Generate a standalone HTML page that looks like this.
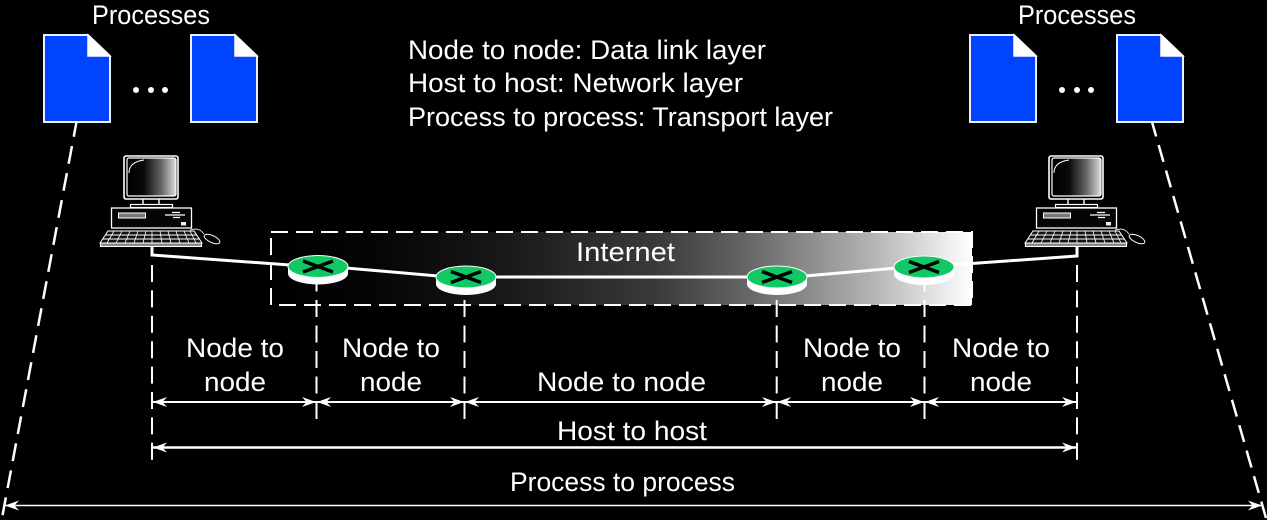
<!DOCTYPE html>
<html><head><meta charset="utf-8"><style>
html,body{margin:0;padding:0;background:#000;width:1267px;height:520px;overflow:hidden}
svg{display:block}
text{font-family:"Liberation Sans",sans-serif;font-size:27px;fill:#fff}
</style></head><body>
<svg width="1267" height="520" viewBox="0 0 1267 520" xmlns="http://www.w3.org/2000/svg">
<defs>
<linearGradient id="inet" x1="271" x2="972" y1="0" y2="0" gradientUnits="userSpaceOnUse">
<stop offset="0" stop-color="#000"/><stop offset="0.15" stop-color="#050505"/><stop offset="0.33" stop-color="#181818"/><stop offset="0.55" stop-color="#3a3a3a"/><stop offset="0.68" stop-color="#666"/><stop offset="0.85" stop-color="#b0b0b0"/><stop offset="1" stop-color="#fff"/>
</linearGradient>
<linearGradient id="mon" x1="0" x2="1" y1="0" y2="0">
<stop offset="0" stop-color="#000"/><stop offset="0.35" stop-color="#0a0a0a"/><stop offset="0.7" stop-color="#666"/><stop offset="1" stop-color="#ddd"/>
</linearGradient>
<g id="doc">
<path d="M44 35H88L110 56V122H44Z" fill="#0044ff" stroke="#eef" stroke-width="2"/>
<path d="M88 35L110 56H88Z" fill="#fff" stroke="#fff" stroke-width="1.5"/>
</g>
<g id="pc" fill="none" stroke="#fff">
<rect x="124" y="156" width="54" height="43" rx="2" stroke-width="1.6"/>
<rect x="127" y="158" width="49" height="38" rx="2" fill="url(#mon)" stroke-width="1.2"/>
<path d="M129 173Q129 162 144 160" stroke-width="1"/>
<path d="M143 199V204M159 199V204" stroke-width="1.4"/>
<rect x="130.500" y="204.500" width="42" height="3" stroke-width="1.2"/>
<rect x="111.500" y="208" width="80" height="20" fill="#050505" stroke-width="1.3"/>
<rect x="118.500" y="213" width="27" height="5" fill="#777" stroke-width="1"/>
<path d="M165 215H185M172 212.500H180M173 217.500H180" stroke-width="1.200"/>
<rect x="181" y="222" width="5" height="3.500" fill="#eee" stroke="none"/>
<path d="M108 231H194L202 243H100Z" fill="#111" stroke-width="1"/>
<path d="M106 235H197M103 239H200" stroke-width="1"/>
<path d="M114 231L107 243M122 231L116 243M130 231L125 243M138 231L134 243M146 231L143 243M152 231V243M160 231L162 243M168 231L171 243M176 231L180 243M184 231L189 243M190 231L196 243" stroke-width="0.800"/>
<rect x="100.500" y="243" width="101" height="3.500" fill="#888" stroke-width="1"/>
<path d="M190 230C197 228 200 229 204 234" stroke-width="0.800"/>
<ellipse cx="212" cy="239" rx="8.500" ry="3.500" transform="rotate(25 212 239)" stroke-width="1"/>
</g>
<g id="rt">
<path d="M-30 0V7A30 11 0 0 0 30 7V0Z" fill="#fff"/>
<ellipse cx="0" cy="0" rx="30" ry="11" fill="#10c864" stroke="#fff" stroke-width="1"/>
<path d="M-15 -5.500L15 5.500M15 -5.500L-15 5.500" stroke="#000" stroke-width="3.500"/>
</g>
<g id="la"><path d="M0 0L14 -5L9.500 0L14 5Z" fill="#fff"/></g>
<g id="ra"><path d="M0 0L-14 -5L-9.500 0L-14 5Z" fill="#fff"/></g>
</defs>
<rect width="1267" height="520" fill="#000"/>

<rect x="271" y="232" width="701" height="73" fill="url(#inet)"/>
<rect x="271" y="232" width="701" height="73" fill="none" stroke="#fff" stroke-width="2" stroke-dasharray="17 8"/>

<use href="#doc"/>
<use href="#doc" x="147"/>
<use href="#doc" x="926"/>
<use href="#doc" x="1073"/>
<g fill="#fff">
<circle cx="136" cy="90" r="3"/><circle cx="151" cy="90" r="3"/><circle cx="165" cy="90" r="3"/>
<circle cx="1062" cy="90" r="3"/><circle cx="1077" cy="90" r="3"/><circle cx="1091" cy="90" r="3"/>
</g>

<use href="#pc"/>
<use href="#pc" x="925"/>

<path d="M152 247V255L290 265M346 268L438 276M494 277H749M805 276L897 268M951 265L1077 256V247" fill="none" stroke="#fff" stroke-width="3"/>

<g stroke="#fff" stroke-width="2" fill="none">
<path d="M152 265V460" stroke-dasharray="17 8.400"/>
<path d="M1077 265V460" stroke-dasharray="17 8.400"/>
<path d="M316.500 283V419" stroke-dasharray="17 8.500" stroke-dashoffset="8.500"/>
<path d="M464.500 294V419" stroke-dasharray="17 8.500" stroke-dashoffset="19.500"/>
<path d="M776.700 294V419" stroke-dasharray="17 8.500" stroke-dashoffset="19.500"/>
<path d="M924.500 283V419" stroke-dasharray="17 8.500" stroke-dashoffset="8.500"/>
<path d="M76.500 122L2 518" stroke-width="2.500" stroke-dasharray="18 9.500" stroke-dashoffset="3"/>
<path d="M1152 122L1266 518" stroke-width="2.500" stroke-dasharray="17.500 9" stroke-dashoffset="2.500"/>
<path d="M153 402H1076"/>
<path d="M153 447.500H1076" stroke-width="2.500"/>
<path d="M4 505.500H1263" stroke-width="1.500"/>
</g>

<use href="#rt" x="318" y="266.500"/>
<use href="#rt" x="466" y="277"/>
<use href="#rt" x="777" y="277"/>
<use href="#rt" x="924" y="267"/>

<use href="#la" x="153" y="402"/><use href="#ra" x="316" y="402"/>
<use href="#la" x="317" y="402"/><use href="#ra" x="464" y="402"/>
<use href="#la" x="465" y="402"/><use href="#ra" x="776" y="402"/>
<use href="#la" x="777" y="402"/><use href="#ra" x="924" y="402"/>
<use href="#la" x="925" y="402"/><use href="#ra" x="1076" y="402"/>
<use href="#la" x="153" y="447.500"/><use href="#ra" x="1076" y="447.500"/>
<use href="#la" x="5" y="505.500"/><use href="#ra" x="1262" y="505.500"/>

<text x="92" y="24" textLength="118" lengthAdjust="spacingAndGlyphs">Processes</text>
<text x="1018" y="24" textLength="118" lengthAdjust="spacingAndGlyphs">Processes</text>
<text x="408" y="59" textLength="358" lengthAdjust="spacingAndGlyphs">Node to node: Data link layer</text>
<text x="408" y="92" textLength="335" lengthAdjust="spacingAndGlyphs">Host to host: Network layer</text>
<text x="408" y="126" textLength="425" lengthAdjust="spacingAndGlyphs">Process to process: Transport layer</text>
<text x="576" y="261" textLength="99" lengthAdjust="spacingAndGlyphs">Internet</text>
<text x="186" y="357" textLength="98" lengthAdjust="spacingAndGlyphs">Node to</text>
<text x="204" y="391" textLength="62" lengthAdjust="spacingAndGlyphs">node</text>
<text x="342" y="357" textLength="98" lengthAdjust="spacingAndGlyphs">Node to</text>
<text x="360" y="391" textLength="62" lengthAdjust="spacingAndGlyphs">node</text>
<text x="537" y="391" textLength="169" lengthAdjust="spacingAndGlyphs">Node to node</text>
<text x="803" y="357" textLength="98" lengthAdjust="spacingAndGlyphs">Node to</text>
<text x="821" y="391" textLength="62" lengthAdjust="spacingAndGlyphs">node</text>
<text x="952" y="357" textLength="98" lengthAdjust="spacingAndGlyphs">Node to</text>
<text x="970" y="391" textLength="62" lengthAdjust="spacingAndGlyphs">node</text>
<text x="557" y="440" textLength="150" lengthAdjust="spacingAndGlyphs">Host to host</text>
<text x="510" y="491" textLength="225" lengthAdjust="spacingAndGlyphs">Process to process</text>
</svg>
</body></html>
